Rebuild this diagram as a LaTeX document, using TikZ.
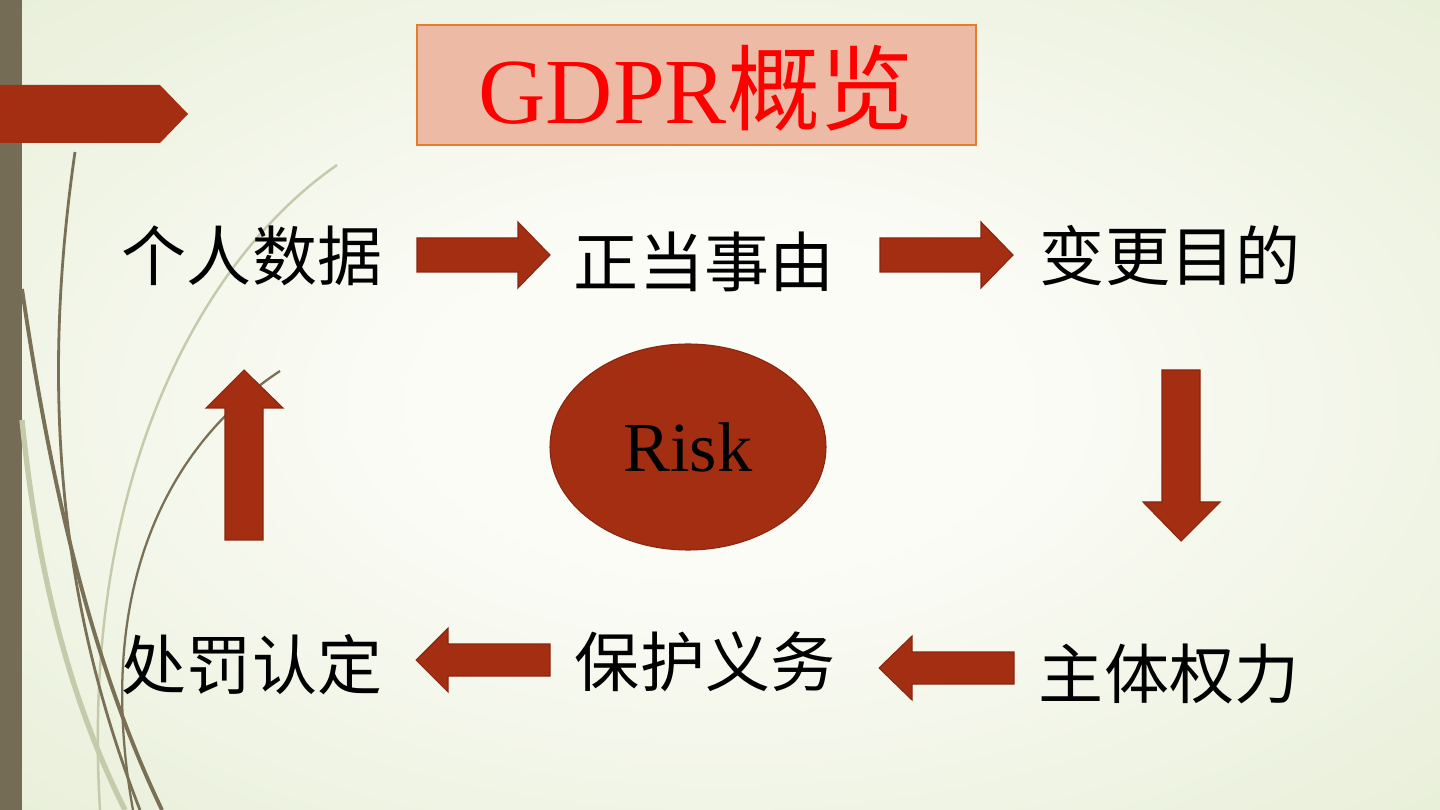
\documentclass[tikz,border=0pt]{standalone}
\usepackage{fontspec}
\usetikzlibrary{shapes.geometric}
\newfontfamily\cjk{Noto Sans CJK SC}
\setmainfont{Liberation Serif}
\definecolor{bginner}{RGB}{252,252,247}
\definecolor{bgmid}{RGB}{238,243,226}
\definecolor{bgouter}{RGB}{222,232,200}
\pgfdeclareradialshading{slidebg}{\pgfpoint{0bp}{0bp}}{%
  color(0bp)=(bginner); color(10bp)=(bginner);
  color(28bp)=(bgmid); color(50bp)=(bgouter); color(80bp)=(bgouter)}
\begin{document}
\begin{tikzpicture}[x=0.02cm,y=-0.02cm]
\definecolor{barcolor}{RGB}{117,108,85}
\definecolor{arrowcolor}{RGB}{164,46,17}
\definecolor{arrowline}{RGB}{138,38,16}
\definecolor{titlefill}{RGB}{237,187,165}
\definecolor{titleline}{RGB}{226,126,46}
\definecolor{darkstem}{RGB}{122,112,86}
\definecolor{lightstem}{RGB}{196,202,170}
\tikzstyle{item}=[font=\cjk\fontsize{37}{44}\selectfont,inner sep=0pt]
\tikzstyle{blockarrow}=[fill=arrowcolor,draw=arrowline,line width=0.6pt,line join=miter]
\tikzstyle{stem}=[darkstem,line width=1.6pt]
\tikzstyle{faintstem}=[lightstem,line width=2pt]
\useasboundingbox (0,0) rectangle (1440,810);
% background
\shade[shading=slidebg] (0,0) rectangle (1440,810);
\fill[barcolor] (0,0) rectangle (22,810);
\fill[arrowcolor] (0,85) -- (160,85) -- (188,114) -- (160,143) -- (0,143) -- cycle;
% stems
\draw[faintstem,line width=1.4pt] (337,165) .. controls (200,260) and (80,480) .. (100,810);
\draw[faintstem,line width=3pt] (22,420) .. controls (40,600) and (80,720) .. (125,810);
\draw[stem] (75,152) .. controls (45,360) and (50,580) .. (140,810);
\draw[stem,line width=2.2pt] (22,289) .. controls (50,480) and (90,660) .. (162,810);
\draw[stem,line width=1.3pt] (280,371) .. controls (160,450) and (95,600) .. (133,810);
% title
\node[draw=titleline,fill=titlefill,line width=1pt,minimum width=559*0.02cm,
  minimum height=120*0.02cm,inner sep=0pt] (title) at (696.5,85) {};
\node[red,font=\fontsize{53}{62}\selectfont,inner sep=0pt] (titletext) at (696,88)
  {GDPR{\cjk 概览}};
% items
\node[item] (personal) at (252,256) {个人数据};
\node[item] (lawful) at (704,262) {正当事由};
\node[item] (purpose) at (1170,256) {变更目的};
\node[item] (rights) at (1169,674) {主体权力};
\node[item] (duty) at (705,662) {保护义务};
\node[item] (penalty) at (252,665) {处罚认定};
% risk
\node[ellipse,fill=arrowcolor,draw=arrowline,line width=0.6pt,minimum width=276*0.02cm,
  minimum height=206*0.02cm,inner sep=0pt,font=\rmfamily\fontsize{40}{44}\selectfont]
  (risk) at (688,447) {Risk};
% arrows
\draw[blockarrow] (417,238) -- (518,238) -- (518,222) -- (550,255) -- (518,288) -- (518,272) -- (417,272) -- cycle;
\draw[blockarrow] (880,238) -- (981,238) -- (981,222) -- (1013,255) -- (981,288) -- (981,272) -- (880,272) -- cycle;
\draw[blockarrow] (1162,370) -- (1200,370) -- (1200,502) -- (1220,502) -- (1181,541) -- (1143,502) -- (1162,502) -- cycle;
\draw[blockarrow] (1014,652) -- (912,652) -- (912,636) -- (879,668) -- (912,700) -- (912,684) -- (1014,684) -- cycle;
\draw[blockarrow] (550,644) -- (448,644) -- (448,628) -- (416,660) -- (448,692) -- (448,676) -- (550,676) -- cycle;
\draw[blockarrow] (225,540) -- (263,540) -- (263,408) -- (283,408) -- (244,370) -- (206,408) -- (225,408) -- cycle;
\end{tikzpicture}
\end{document}
